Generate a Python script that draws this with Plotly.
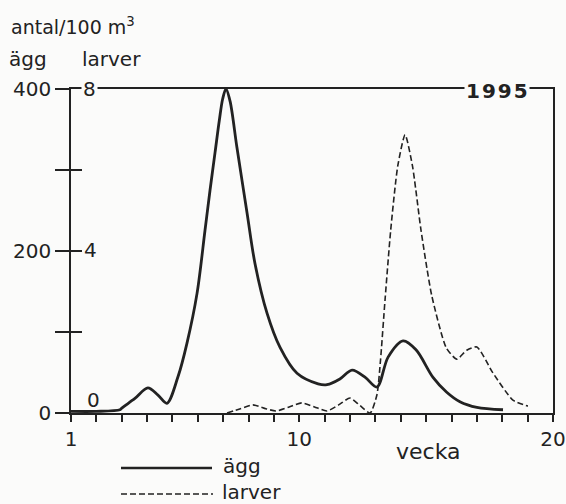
import plotly.graph_objects as go

# --- data ---
egg_weeks = [1.0, 2.0, 2.93, 3.0, 3.52, 4.03, 4.43, 4.78, 5.22, 5.57, 5.97, 6.28, 6.48, 6.68, 6.85,
             6.98, 7.11, 7.27, 7.54, 7.94, 8.25, 8.73, 9.24, 9.91, 10.74, 11.09, 11.6, 12.08, 12.6,
             13.06, 13.5, 14.09, 14.6, 15.27, 15.8, 16.33, 17.0, 18.03]
egg_values = [2, 2, 4, 6, 18, 31, 22, 12, 45, 86, 148, 225, 275, 322, 362,
              388, 400, 385, 328, 247, 185, 123, 81, 49, 36, 35, 42, 53, 44,
              32, 69, 89, 78, 44, 26, 14, 7, 4]

larv_weeks = [7.15, 7.65, 8.17, 8.6, 9.08, 9.6, 10.1, 10.6, 11.09, 11.55, 12.0, 12.4, 12.79, 13.06,
              13.2, 13.38, 13.6, 13.88, 14.17, 14.46, 14.8, 15.22, 15.8, 16.21, 16.6, 17.0,
              17.63, 18.42, 19.01]
larv_values = [0, 0.1, 0.2, 0.12, 0.05, 0.15, 0.25, 0.15, 0.05, 0.2, 0.37, 0.18, 0.0, 0.45,
               1.3, 2.8, 4.5, 6.1, 6.87, 6.1, 4.5, 2.9, 1.6, 1.33, 1.55, 1.63,
               0.99, 0.32, 0.17]

x_ticks = list(range(1, 21))
x_ticktext = ["1" if t == 1 else "10" if t == 10 else "20" if t == 20 else "" for t in x_ticks]
egg_ticks = [0, 100, 200, 300, 400]
egg_ticktext = ["0", "", "200", "", "400"]
larv_ticks = [0, 2, 4, 6, 8]

W, H = 566, 504
L, R, T, B = 71, 13, 89, 91
INK = "#222222"
BG = "#fbfbfa"
FONT = "DejaVu Sans, Liberation Sans, sans-serif"


def px(x):
    return (x - L) / (W - L - R)


def py(y):
    return (H - B - y) / (H - T - B)


fig = go.Figure()
fig.add_trace(go.Scatter(x=egg_weeks, y=egg_values, mode="lines",
                         line=dict(color=INK, width=2.8, shape="spline", smoothing=0.9),
                         name="ägg", showlegend=False, yaxis="y"))
fig.add_trace(go.Scatter(x=larv_weeks, y=larv_values, mode="lines",
                         line=dict(color=INK, width=1.6, dash="6px,3px", shape="spline", smoothing=0.6),
                         name="larver", showlegend=False, yaxis="y2"))

fig.update_layout(
    width=W, height=H,
    margin=dict(l=L, r=R, t=T, b=B, autoexpand=False),
    paper_bgcolor=BG, plot_bgcolor=BG,
    font=dict(family=FONT, color=INK, size=20),
    xaxis=dict(range=[1, 20], tickvals=x_ticks, ticktext=x_ticktext, automargin=False,
               ticks="outside", ticklen=7, tickwidth=1.5, tickcolor=INK,
               showline=True, linecolor=INK, linewidth=1.7, mirror=True,
               showgrid=False, zeroline=False, tickfont=dict(size=20)),
    yaxis=dict(range=[0, 400], tickvals=egg_ticks, ticktext=egg_ticktext, automargin=False,
               ticks="outside", ticklen=14, tickwidth=1.5, tickcolor=INK,
               showline=True, linecolor=INK, linewidth=1.7, mirror=True,
               showgrid=False, zeroline=False, tickfont=dict(size=20)),
    yaxis2=dict(range=[0, 8], tickvals=larv_ticks, overlaying="y", side="left", anchor="x",
                automargin=False, ticks="inside", ticklen=11, tickwidth=1.5, tickcolor=INK,
                showticklabels=False, showline=False, showgrid=False, zeroline=False),
)

ann = [
    dict(x=px(9), y=py(26), text="antal/100 m<sup>3</sup>", xanchor="left", yanchor="middle", font=dict(size=19)),
    dict(x=px(7), y=py(59), text="ägg", xanchor="left", yanchor="middle", font=dict(size=20)),
    dict(x=px(80), y=py(59), text="larver", xanchor="left", yanchor="middle", font=dict(size=20)),
    dict(x=px(81), y=py(89), text="8", xanchor="left", yanchor="middle", font=dict(size=20),
         bgcolor=BG, borderpad=1),
    dict(x=px(82), y=py(250), text="4", xanchor="left", yanchor="middle", font=dict(size=20)),
    dict(x=px(85), y=py(400), text="0", xanchor="left", yanchor="middle", font=dict(size=20)),
    dict(x=px(497), y=py(91), text="<b>1\u200a9\u200a9\u200a5</b>", xanchor="center", yanchor="middle",
         font=dict(size=20), bgcolor=BG, borderpad=1),
    dict(x=px(428), y=py(451), text="vecka", xanchor="center", yanchor="middle", font=dict(size=22)),
    dict(x=px(221), y=py(466), text="ägg", xanchor="left", yanchor="middle", font=dict(size=20)),
    dict(x=px(220), y=py(492), text="larver", xanchor="left", yanchor="middle", font=dict(size=20)),
]
for a in ann:
    a.update(xref="paper", yref="paper", showarrow=False)
fig.update_layout(annotations=ann)

fig.update_layout(shapes=[
    dict(type="line", xref="paper", yref="paper", x0=px(121), x1=px(212), y0=py(468), y1=py(468),
         line=dict(color=INK, width=2.4)),
    dict(type="line", xref="paper", yref="paper", x0=px(121), x1=px(213), y0=py(494), y1=py(494),
         line=dict(color=INK, width=1.3, dash="6px,3px")),
])

fig.write_html("out.html")
